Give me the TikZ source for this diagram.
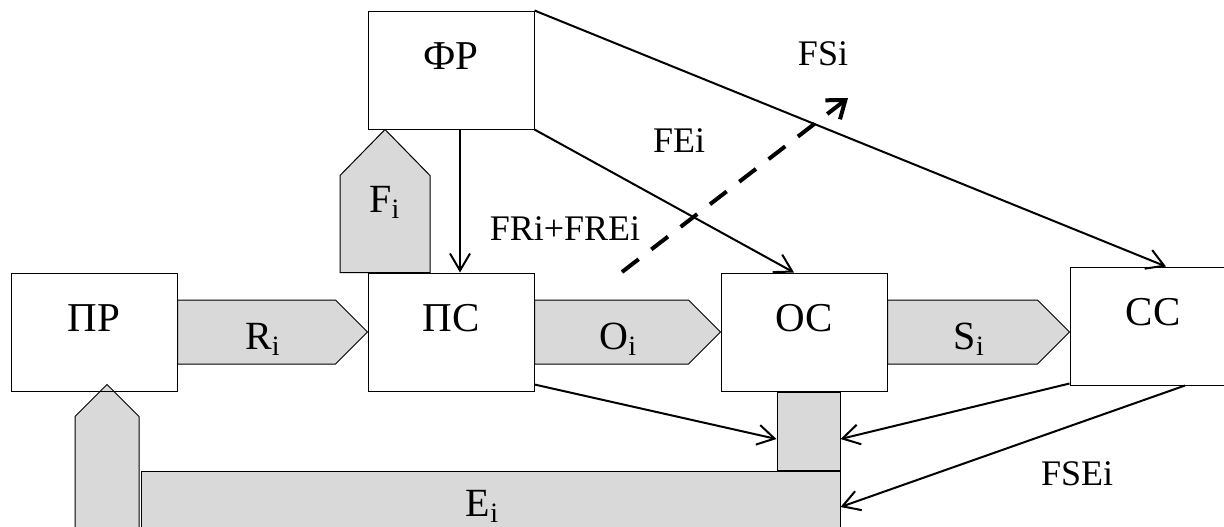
\documentclass[tikz,border=0pt]{standalone}
\usepackage{fontspec}
\setmainfont{Liberation Serif}
\usetikzlibrary{arrows.meta, positioning, calc, backgrounds}

\begin{document}
\begin{tikzpicture}[
    x=0.5pt, y=-0.5pt,
    >={Straight Barb[length=8.5pt, width=10pt]},
    box/.style={rectangle, draw=black, line width=0.5pt, minimum width=83pt, inner sep=0pt, text height=29pt, text depth=30pt, font=\fontsize{20.5}{24}\selectfont},
    band/.style={draw=black, line width=0.5pt, fill=black!15},
    flow/.style={->, line width=1pt},
    outflow/.style={-{Straight Barb[length=8pt, width=12pt]}, line width=2pt, dash pattern=on 10.5pt off 8pt},
    tag/.style={anchor=base, inner sep=0pt, font=\fontsize{18}{21}\selectfont},
    bandtag/.style={anchor=base, inner sep=0pt, font=\fontsize{20}{24}\selectfont}
  ]
    \useasboundingbox (0,0) rectangle (1224,526);
    \node[box] (pr) at (94,332) {ПР};
    \node[box, right=95pt of pr] (ps) {ПС};
    \node[box, above=71.5pt of ps] (fr) {ФР};
    \node[box, right=93pt of ps] (oc) {ОС};
    \node[box, right=91pt of oc, yshift=3pt] (cc) {СС};
    \begin{scope}[on background layer]
      \foreach \a/\b/\t in {pr/ps/R, ps/oc/O, oc/cc/S} {
        \draw[band] ($(\a.east)+(0,-32)$) -- ($(\b.west |- \a.east)+(-32,-32)$) -- (\b.west |- \a.east)
          -- ($(\b.west |- \a.east)+(-32,32)$) -- ($(\a.east)+(0,32)$) -- cycle;
        \node[bandtag] (tag\t) at ($(\a.east)!0.45!(\b.west |- \a.east)+(0,17)$) {\t\textsubscript{i}};
      }
      \draw[band] ($(ps.north)+(-111,0)$) -- ($(ps.north)+(-111,-97)$) -- ($(fr.south)+(-66,0)$)
        -- ($(ps.north)+(-21,-97)$) -- ($(ps.north)+(-21,0)$) -- cycle;
      \node[bandtag] (tagF) at ($(fr.south)+(-66,83)$) {F\textsubscript{i}};
      \node[band, minimum width=31.5pt, minimum height=39pt, inner sep=0pt, anchor=north, xshift=2.25pt] (estem) at (oc.south) {};
      \node[band, minimum width=349.5pt, minimum height=36pt, inner sep=0pt, anchor=north east] (eband) at (estem.south east) {};
      \draw[band] ($(pr.south)+(-19,150)$) -- ($(pr.south)+(-19,25)$) -- ($(pr.south)+(13,-7)$)
        -- ($(pr.south)+(45,25)$) -- ($(pr.south)+(45,150)$) -- cycle;
      \node[bandtag] (tagE) at ($(eband.center)+(-8,9)$) {E\textsubscript{i}};
    \end{scope}
    \draw[flow] (fr.north east) -- ($(cc.north)+(13,0)$);
    \draw[flow] (fr.south east) -- ($(oc.north)+(-10,0)$);
    \draw[flow] ($(fr.south)+(9,0)$) -- ($(ps.north)+(9,0)$);
    \draw[flow] ($(ps.south east)+(0,-7)$) -- ($(estem.west)+(0,8)$);
    \draw[flow] ($(cc.south west)+(0,-2)$) -- ($(estem.east)+(0,8)$);
    \draw[flow] ($(cc.south)+(32,0)$) -- (eband.east);
    \coordinate (dstart) at (622,272);
    \coordinate (dend) at (848,98);
    \draw[outflow] (dstart) -- (dend);
    \node[tag] (fsi) at (823,65) {FSi};
    \node[tag] (fei) at (679,152) {FEi};
    \node[tag] (frei) at (565,240) {FRi+FREi};
    \node[tag] (fsei) at (1077,485) {FSEi};
  \end{tikzpicture}
\end{document}
